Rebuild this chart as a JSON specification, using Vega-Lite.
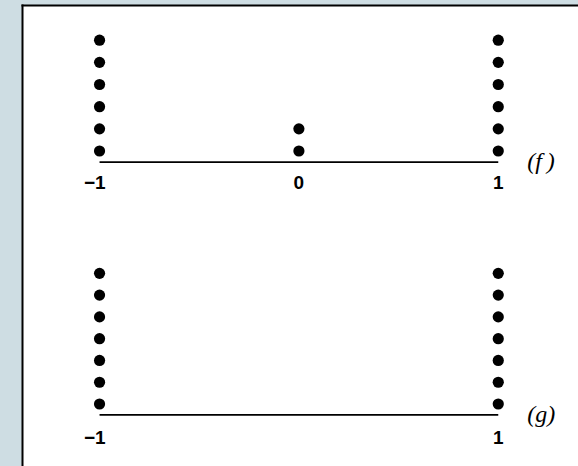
{
  "$schema": "https://vega.github.io/schema/vega-lite/v6.json",
  "background": "#cedde3",
  "autosize": {"type": "none"},
  "padding": {"left": 22, "top": 5, "right": 0, "bottom": 0},
  "width": 556,
  "height": 461,
  "config": {
    "view": {"fill": "white", "stroke": null},
    "axis": {"grid": false, "title": null}
  },
  "datasets": {
    "f": [
      {"x": -1, "level": 1}, {"x": -1, "level": 2}, {"x": -1, "level": 3},
      {"x": -1, "level": 4}, {"x": -1, "level": 5}, {"x": -1, "level": 6},
      {"x": 0, "level": 1}, {"x": 0, "level": 2},
      {"x": 1, "level": 1}, {"x": 1, "level": 2}, {"x": 1, "level": 3},
      {"x": 1, "level": 4}, {"x": 1, "level": 5}, {"x": 1, "level": 6}
    ],
    "g": [
      {"x": -1, "level": 1}, {"x": -1, "level": 2}, {"x": -1, "level": 3},
      {"x": -1, "level": 4}, {"x": -1, "level": 5}, {"x": -1, "level": 6},
      {"x": -1, "level": 7},
      {"x": 1, "level": 1}, {"x": 1, "level": 2}, {"x": 1, "level": 3},
      {"x": 1, "level": 4}, {"x": 1, "level": 5}, {"x": 1, "level": 6},
      {"x": 1, "level": 7}
    ],
    "ticks_f": [{"x": -1, "t": "−1"}, {"x": 0, "t": "0"}, {"x": 1, "t": "1"}],
    "ticks_g": [{"x": -1, "t": "−1"}, {"x": 1, "t": "1"}]
  },
  "resolve": {"scale": {"y": "independent"}, "axis": {"y": "independent"}},
  "layer": [
    {
      "layer": [
        {
          "data": {"name": "f"},
          "mark": {"type": "point", "filled": true, "color": "black", "opacity": 1, "size": 125, "strokeWidth": 0},
          "encoding": {
            "x": {
              "field": "x", "type": "quantitative",
              "scale": {"domain": [-1.389, 1.4], "nice": false, "zero": false},
              "axis": {"orient": "top", "labels": false, "ticks": false, "domainColor": "black", "domainWidth": 2, "domainCap": "square"}
            },
            "y": {
              "field": "level", "type": "quantitative",
              "scale": {"domain": [-13.214, 7.589], "nice": false, "zero": false},
              "axis": {"orient": "left", "labels": false, "ticks": false, "domainColor": "black", "domainWidth": 2, "domainCap": "square"}
            }
          }
        },
        {
          "data": {"values": [{}]},
          "mark": {"type": "rule", "color": "black", "strokeWidth": 1.8},
          "encoding": {
            "x": {"datum": -1, "type": "quantitative"},
            "x2": {"datum": 1},
            "y": {"datum": 0.5, "type": "quantitative"}
          }
        },
        {
          "data": {"name": "ticks_f"},
          "transform": [{"filter": "datum.x < 0"}],
          "mark": {"type": "text", "font": "Liberation Sans", "fontWeight": "bold", "fontSize": 19, "align": "right", "baseline": "middle", "dy": 21, "dx": 6, "color": "black"},
          "encoding": {
            "x": {"field": "x", "type": "quantitative"},
            "y": {"datum": 0.5, "type": "quantitative"},
            "text": {"field": "t"}
          }
        },
        {
          "data": {"name": "ticks_f"},
          "transform": [{"filter": "datum.x >= 0"}],
          "mark": {"type": "text", "font": "Liberation Sans", "fontWeight": "bold", "fontSize": 19, "align": "center", "baseline": "middle", "dy": 21, "color": "black"},
          "encoding": {
            "x": {"field": "x", "type": "quantitative"},
            "y": {"datum": 0.5, "type": "quantitative"},
            "text": {"field": "t"}
          }
        },
        {
          "data": {"values": [{}]},
          "mark": {"type": "text", "text": "(f\u2009)", "font": "Liberation Serif", "fontStyle": "italic", "fontSize": 24, "align": "left", "baseline": "middle", "dx": 29, "color": "black"},
          "encoding": {
            "x": {"datum": 1, "type": "quantitative"},
            "y": {"datum": 0.5, "type": "quantitative"}
          }
        }
      ]
    },
    {
      "layer": [
        {
          "data": {"name": "g"},
          "mark": {"type": "point", "filled": true, "color": "black", "opacity": 1, "size": 125, "strokeWidth": 0},
          "encoding": {
            "x": {"field": "x", "type": "quantitative"},
            "y": {
              "field": "level", "type": "quantitative",
              "scale": {"domain": [-1.846, 19.32], "nice": false, "zero": false},
              "axis": null
            }
          }
        },
        {
          "data": {"values": [{}]},
          "mark": {"type": "rule", "color": "black", "strokeWidth": 1.8},
          "encoding": {
            "x": {"datum": -1, "type": "quantitative"},
            "x2": {"datum": 1},
            "y": {"datum": 0.5, "type": "quantitative"}
          }
        },
        {
          "data": {"name": "ticks_g"},
          "transform": [{"filter": "datum.x < 0"}],
          "mark": {"type": "text", "font": "Liberation Sans", "fontWeight": "bold", "fontSize": 19, "align": "right", "baseline": "middle", "dy": 23, "dx": 6, "color": "black"},
          "encoding": {
            "x": {"field": "x", "type": "quantitative"},
            "y": {"datum": 0.5, "type": "quantitative"},
            "text": {"field": "t"}
          }
        },
        {
          "data": {"name": "ticks_g"},
          "transform": [{"filter": "datum.x >= 0"}],
          "mark": {"type": "text", "font": "Liberation Sans", "fontWeight": "bold", "fontSize": 19, "align": "center", "baseline": "middle", "dy": 23, "color": "black"},
          "encoding": {
            "x": {"field": "x", "type": "quantitative"},
            "y": {"datum": 0.5, "type": "quantitative"},
            "text": {"field": "t"}
          }
        },
        {
          "data": {"values": [{}]},
          "mark": {"type": "text", "text": "(g)", "font": "Liberation Serif", "fontStyle": "italic", "fontSize": 24, "align": "left", "baseline": "middle", "dx": 29, "color": "black"},
          "encoding": {
            "x": {"datum": 1, "type": "quantitative"},
            "y": {"datum": 0.5, "type": "quantitative"}
          }
        }
      ]
    }
  ]
}
